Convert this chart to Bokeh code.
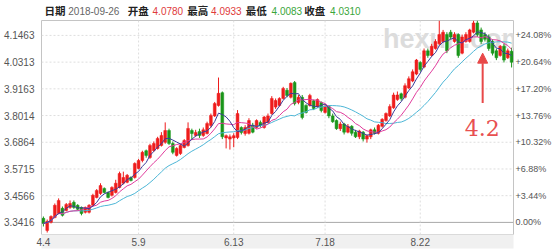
from bokeh.plotting import figure
from bokeh.models import (Range1d, LinearAxis, FixedTicker, Span,
                          Label, Arrow, NormalHead, ColumnDataSource)
from bokeh.layouts import column
from bokeh.core.properties import value
from bokeh.embed import file_html
from bokeh.resources import INLINE
import pandas as pd

# ---- data: open, high, low, close ----
ohlc = [
 (3.359,3.367,3.324,3.337),(3.307,3.354,3.298,3.346),(3.342,3.372,3.337,3.367),(3.363,3.423,3.359,3.415),
 (3.380,3.445,3.376,3.436),(3.402,3.410,3.367,3.372),(3.393,3.425,3.389,3.419),(3.406,3.436,3.400,3.423),
 (3.428,3.436,3.400,3.406),(3.415,3.420,3.393,3.398),(3.406,3.410,3.372,3.380),(3.385,3.410,3.380,3.406),
 (3.385,3.420,3.380,3.415),(3.415,3.465,3.410,3.458),(3.449,3.485,3.445,3.479),(3.466,3.510,3.460,3.500),
 (3.488,3.492,3.466,3.470),(3.470,3.475,3.445,3.449),(3.458,3.497,3.453,3.492),(3.470,3.525,3.466,3.510),
 (3.492,3.560,3.488,3.552),(3.510,3.560,3.505,3.535),(3.514,3.550,3.510,3.544),(3.535,3.540,3.518,3.522),
 (3.535,3.600,3.530,3.595),(3.574,3.615,3.570,3.608),(3.608,3.650,3.600,3.643),(3.650,3.655,3.620,3.630),
 (3.621,3.680,3.615,3.673),(3.651,3.690,3.645,3.681),(3.660,3.710,3.655,3.703),(3.673,3.730,3.668,3.716),
 (3.686,3.772,3.680,3.737),(3.737,3.745,3.675,3.681),(3.681,3.690,3.635,3.643),(3.630,3.665,3.625,3.660),
 (3.638,3.680,3.632,3.673),(3.664,3.700,3.660,3.694),(3.672,3.772,3.668,3.746),(3.737,3.745,3.700,3.724),
 (3.716,3.740,3.710,3.729),(3.733,3.745,3.705,3.716),(3.716,3.750,3.710,3.740),(3.724,3.775,3.720,3.767),
 (3.759,3.810,3.750,3.802),(3.800,3.860,3.795,3.853),(3.845,3.965,3.840,3.897),(3.900,3.905,3.700,3.710),
 (3.705,3.720,3.660,3.715),(3.700,3.720,3.655,3.710),(3.705,3.725,3.665,3.715),(3.707,3.825,3.700,3.810),
 (3.750,3.755,3.720,3.729),(3.724,3.760,3.715,3.750),(3.725,3.790,3.720,3.780),(3.760,3.770,3.725,3.730),
 (3.750,3.785,3.745,3.780),(3.772,3.780,3.750,3.760),(3.750,3.800,3.745,3.795),(3.772,3.810,3.770,3.800),
 (3.810,3.885,3.805,3.875),(3.838,3.875,3.830,3.866),(3.845,3.880,3.840,3.875),(3.875,3.925,3.870,3.918),
 (3.910,3.920,3.880,3.888),(3.880,3.944,3.875,3.940),(3.944,3.950,3.845,3.853),(3.858,3.890,3.850,3.880),
 (3.880,3.890,3.785,3.793),(3.845,3.850,3.810,3.815),(3.845,3.895,3.840,3.888),(3.865,3.870,3.825,3.832),
 (3.840,3.875,3.835,3.870),(3.858,3.862,3.815,3.823),(3.815,3.850,3.810,3.840),(3.840,3.845,3.790,3.800),
 (3.800,3.810,3.770,3.775),(3.780,3.785,3.740,3.745),(3.745,3.775,3.735,3.765),(3.765,3.770,3.720,3.730),
 (3.730,3.765,3.725,3.755),(3.755,3.760,3.715,3.725),(3.730,3.740,3.705,3.710),(3.710,3.740,3.700,3.735),
 (3.730,3.735,3.690,3.700),(3.700,3.720,3.685,3.715),(3.710,3.745,3.700,3.740),(3.740,3.750,3.720,3.725),
 (3.725,3.765,3.720,3.760),(3.755,3.790,3.750,3.785),(3.780,3.815,3.775,3.810),(3.800,3.850,3.795,3.840),
 (3.835,3.900,3.830,3.890),(3.870,3.905,3.865,3.890),(3.895,3.900,3.865,3.875),(3.880,3.940,3.875,3.930),
 (3.920,3.970,3.915,3.960),(3.950,4.000,3.945,3.990),(3.980,4.045,3.975,4.040),(4.030,4.035,3.990,4.000),
 (4.010,4.090,4.005,4.080),(4.080,4.090,4.050,4.060),(4.060,4.110,4.055,4.100),(4.090,4.130,4.085,4.120),
 (4.110,4.210,4.105,4.150),(4.120,4.170,4.115,4.160),(4.150,4.160,4.070,4.080),(4.160,4.170,4.130,4.140),
 (4.120,4.160,4.115,4.150),(4.150,4.155,4.050,4.060),(4.070,4.150,4.065,4.140),(4.120,4.160,4.115,4.150),
 (4.120,4.175,4.115,4.170),(4.160,4.210,4.155,4.200),(4.200,4.210,4.140,4.150),(4.170,4.180,4.110,4.120),
 (4.150,4.160,4.120,4.130),(4.140,4.150,4.080,4.090),(4.120,4.130,4.060,4.070),(4.080,4.090,4.040,4.050),
 (4.060,4.105,4.055,4.100),(4.100,4.110,4.030,4.040),(4.050,4.090,4.045,4.080),(4.078,4.0933,4.0083,4.031),
]
opens = [r[0] for r in ohlc]
highs = [r[1] for r in ohlc]
lows = [r[2] for r in ohlc]
closes = [r[3] for r in ohlc]

y_ticks = [3.3416, 3.4566, 3.5715, 3.6865, 3.8014, 3.9164, 4.0313, 4.1463]
y_labels = ["3.3416", "3.4566", "3.5715", "3.6864", "3.8014", "3.9163", "4.0313", "4.1463"]
pct_labels = ["0.00%", "+3.44%", "+6.88%", "+10.32%", "+13.76%", "+17.20%", "+20.64%", "+24.08%"]
x_tick_pos = [0, 25, 50, 74, 99]
x_labels = ["4.4", "5.9", "6.13", "7.18", "8.22"]

# header: captions and values
cap_text = ["日期", "开盘", "最高", "最低", "收盘"]
cap_left = [43, 127, 187, 246, 305]
val_text = ["2018-09-26", "4.0780", "4.0933", "4.0083", "4.0310"]
val_color = ["#666666", "#e03a3a", "#e03a3a", "#3aa63a", "#3aa63a"]
val_left = [67, 152, 211, 272, 331]

N = len(closes)
idx = list(range(N))
s = pd.Series(closes)
ma5 = s.rolling(5, min_periods=1).mean().tolist()
ma10 = s.rolling(10, min_periods=1).mean().tolist()
ma20 = s.rolling(20, min_periods=1).mean().tolist()

up = [c >= o for o, c in zip(opens, closes)]
src = ColumnDataSource(dict(
    x=idx, top=[max(o, c) for o, c in zip(opens, closes)],
    bottom=[min(o, c) for o, c in zip(opens, closes)],
    high=highs, low=lows,
    color=["#ee1c1c" if u else "#1a961a" for u in up]))

# ---- header strip (own small svg figure; its frame is aligned with the chart's, 40..516 px) ----
h = figure(width=554, height=19, output_backend="svg", toolbar_location=None,
           x_range=Range1d(40, 516), y_range=Range1d(19, 0),
           x_axis_location=None, y_axis_location=None,
           min_border_left=40, min_border_right=38, min_border_top=0, min_border_bottom=0,
           border_fill_color="white", background_fill_color="white",
           margin=(0, 0, 0, 0))
h.outline_line_color = None
h.grid.visible = False
h.text(x=cap_left, y=[10] * len(cap_text), text=cap_text, text_color="#222222",
       text_font=value("Noto Sans CJK SC"), text_font_style="bold", text_font_size="10.5px",
       text_baseline="middle", text_align="left")
h.text(x=val_left, y=[10] * len(val_text), text=val_text, text_color=val_color,
       text_font=value("Liberation Sans"), text_font_size="10px",
       text_baseline="middle", text_align="left")

# ---- main chart ----
ymin, ymax = 3.2895, 4.2105
p = figure(width=554, height=230, output_backend="svg", toolbar_location=None,
           x_range=Range1d(-0.5, N - 0.5), y_range=Range1d(ymin, ymax),
           x_axis_location=None, y_axis_location=None,
           min_border_left=40, min_border_right=38, min_border_top=1, min_border_bottom=15,
           background_fill_color="white", border_fill_color="white", margin=(0, 0, 0, 0))
p.outline_line_color = "#c4c4c4"
p.grid.visible = False

la = LinearAxis(ticker=FixedTicker(ticks=y_ticks),
                major_label_overrides=dict(zip(y_ticks, y_labels)))
ra = LinearAxis(ticker=FixedTicker(ticks=y_ticks),
                major_label_overrides=dict(zip(y_ticks, pct_labels)))
ba = LinearAxis(ticker=FixedTicker(ticks=x_tick_pos),
                major_label_overrides=dict(zip(x_tick_pos, x_labels)))
for ax, fs in ((la, "10px"), (ra, "9px"), (ba, "10px")):
    ax.axis_line_color = None
    ax.major_tick_line_color = None
    ax.minor_tick_line_color = None
    ax.major_tick_out = 0
    ax.major_tick_in = 0
    ax.minor_tick_out = 0
    ax.minor_tick_in = 0
    ax.major_label_text_font = "Liberation Sans"
    ax.major_label_text_font_size = fs
    ax.major_label_text_color = "#555555"
la.major_label_standoff = 7
ra.major_label_standoff = 2
ba.major_label_standoff = 3
if "background_fill_color" in ba.properties():
    ba.background_fill_color = "#f0f0f0"
p.add_layout(la, "left")
p.add_layout(ra, "right")
p.add_layout(ba, "below")

# grid lines
for t in y_ticks[1:]:
    p.add_layout(Span(location=t, dimension="width", line_color="#dedede",
                      line_dash="2 2", line_width=1, level="underlay"))
p.add_layout(Span(location=y_ticks[0], dimension="width", line_color="#a8a8a8",
                  line_width=1, level="underlay"))
for t in x_tick_pos[1:]:
    p.add_layout(Span(location=t, dimension="height", line_color="#dedede",
                      line_dash="2 2", line_width=1, level="underlay"))

# watermark
p.text(x=[89.2], y=[4.1306], text=["hexun.com"], text_font=value("Liberation Sans"),
       text_font_style="bold", text_font_size="27px", text_color="#dcdcdc",
       text_baseline="alphabetic", text_align="left", level="underlay")

# candles
p.segment(x0="x", x1="x", y0="low", y1="high", color="color", line_width=1, source=src)
p.vbar(x="x", width=0.74, top="top", bottom="bottom", fill_color="color",
       line_color="color", line_width=0.5, source=src)

# moving averages
p.line(idx, ma20, line_color="#4db6d6", line_width=1)
p.line(idx, ma10, line_color="#e03c9c", line_width=1)
p.line(idx, ma5, line_color="#3c3c99", line_width=1)

# annotation arrow and text
p.add_layout(Arrow(end=NormalHead(size=10, fill_color="#e84848", line_color="#e84848"),
                   x_start=115.4, y_start=3.855, x_end=115.4, y_end=4.07,
                   line_color="#e84848", line_width=2))
p.add_layout(Label(x=110.7, y=3.75, text="4.2", text_font="DejaVu Serif",
                   text_font_size="22px", text_color="#e85050", text_baseline="alphabetic"))

layout = column(h, p, spacing=0)
open("out.html", "w").write(file_html(layout, INLINE))
